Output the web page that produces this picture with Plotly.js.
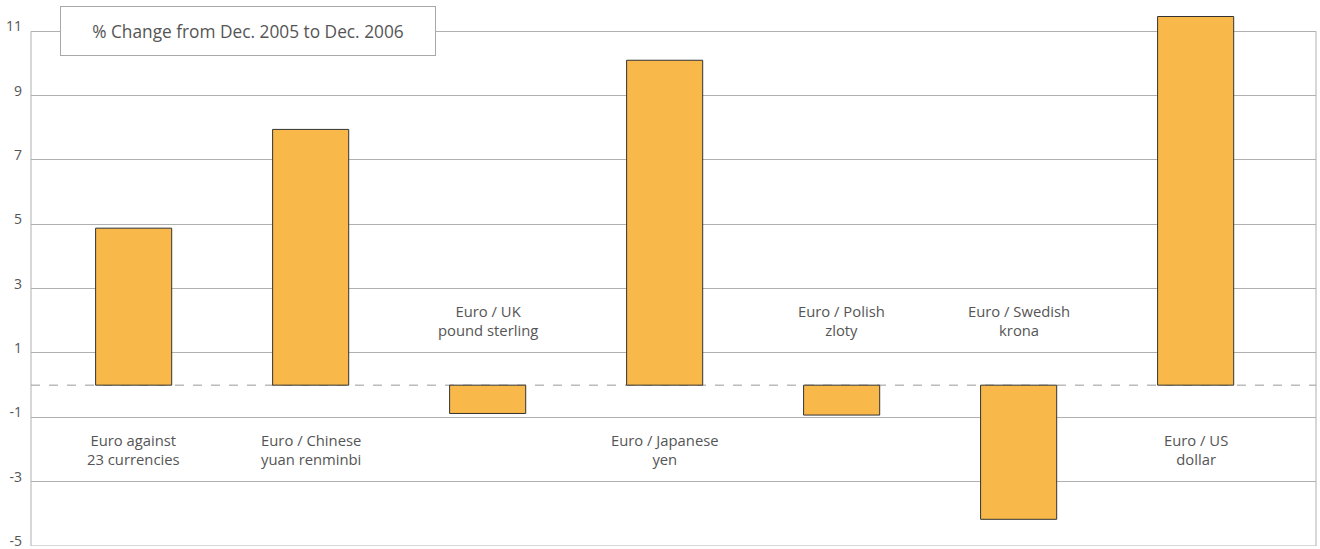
<!DOCTYPE html>
<html>
<head>
<meta charset="utf-8">
<script src="https://cdn.plot.ly/plotly-3.0.1.min.js"></script>
<style>html,body{margin:0;padding:0;background:#fff;}#chart{width:1320px;height:549px;}</style>
</head>
<body>
<div id="chart"></div>
<script>
const categories = ["c1","c2","c3","c4","c5","c6","c7"];
const labels = [
  "Euro against<br>23 currencies",
  "Euro / Chinese<br>yuan renminbi",
  "Euro / UK<br>pound sterling",
  "Euro / Japanese<br>yen",
  "Euro / Polish<br>zloty",
  "Euro / Swedish<br>krona",
  "Euro / US<br>dollar"
];
const values = [4.88, 7.95, -0.88, 10.1, -0.93, -4.17, 11.46];
const yTicks = [-5, -3, -1, 1, 3, 5, 7, 9, 11];
const chartTitle = "% Change from Dec. 2005 to Dec. 2006";

const font = "'Open Sans', Roboto, 'DejaVu Sans', sans-serif";
const textColor = "#555555";
const gridColor = "#b0b0b0";

const annotations = categories.map((c, i) => ({
  x: c, y: values[i] >= 0 ? -2.0 : 2.0,
  xref: "x", yref: "y",
  text: labels[i], showarrow: false,
  font: {family: font, size: 14.8, color: textColor},
  align: "center", xanchor: "center", yanchor: "middle"
}));
annotations.push({
  x: 0.1689, xref: "paper", y: 11.0, yref: "y",
  text: chartTitle, showarrow: false,
  font: {family: font, size: 17.3, color: textColor},
  bgcolor: "#ffffff", bordercolor: "#a8a8a8", borderwidth: 1,
  width: 372, height: 46, borderpad: 1,
  xanchor: "center", yanchor: "middle"
});

const shapes = [
  {type: "line", xref: "paper", yref: "y", x0: 0, x1: 0, y0: -5, y1: 11, line: {color: gridColor, width: 1}, layer: "below"},
  {type: "line", xref: "paper", yref: "y", x0: 1, x1: 1, y0: -5, y1: 11, line: {color: gridColor, width: 1}, layer: "below"},
  {type: "line", xref: "paper", yref: "y", x0: 0, x1: 1, y0: -5, y1: -5, line: {color: gridColor, width: 1}, layer: "below"},
  {type: "line", xref: "paper", yref: "y", x0: 0, x1: 1, y0: 0, y1: 0, line: {color: "#999999", width: 1, dash: "dash"}, layer: "below"}
];

const data = [{
  type: "bar",
  x: categories,
  y: values,
  width: 0.43,
  marker: {color: "#F9B84A", line: {color: "#333333", width: 1}},
  hoverinfo: "y"
}];

const layout = {
  width: 1320, height: 549,
  margin: {l: 31, r: 4, t: 12, b: 3, pad: 0},
  paper_bgcolor: "#ffffff", plot_bgcolor: "#ffffff",
  showlegend: false,
  xaxis: {
    type: "category", range: [-0.58, 6.68],
    showticklabels: false, showgrid: false, zeroline: false, showline: false, ticks: ""
  },
  yaxis: {
    range: [-5, 11.6],
    tickvals: yTicks, ticktext: yTicks.map(String),
    showgrid: true, gridcolor: gridColor, gridwidth: 1,
    zeroline: false, showline: false, ticks: "",
    ticklabelstandoff: 8,
    ticklabelshift: -5,
    ticklabeloverflow: "allow",
    tickfont: {family: font, size: 14, color: textColor}
  },
  annotations: annotations,
  shapes: shapes
};

Plotly.newPlot("chart", data, layout, {displayModeBar: false, staticPlot: true});
</script>
</body>
</html>
